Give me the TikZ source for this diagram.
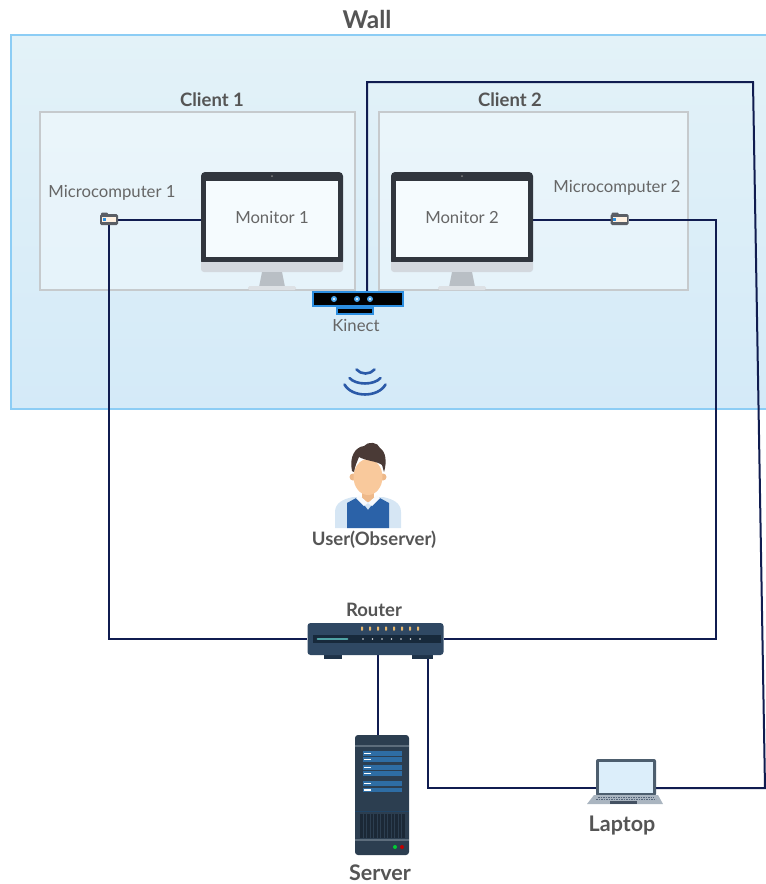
\documentclass[tikz,border=0pt]{standalone}
\usepackage{fontspec}
\setmainfont{Lato}
\usetikzlibrary{calc}

\definecolor{wirec}{HTML}{101C50}
\definecolor{wallTop}{HTML}{E3F2F8}
\definecolor{wallBot}{HTML}{D4EAF8}
\definecolor{wallLine}{HTML}{8CCDF5}
\definecolor{clientLine}{HTML}{C6CACD}
\definecolor{labc}{HTML}{666666}
\definecolor{boldc}{HTML}{555555}
\definecolor{mframe}{HTML}{31363E}
\definecolor{mscreen}{HTML}{F5FBFE}
\definecolor{mchin}{HTML}{D3D8DE}
\definecolor{mneck}{HTML}{B9BFC5}
\definecolor{mbase}{HTML}{DDE1E5}
\definecolor{kblue}{HTML}{2C8EE0}
\definecolor{kdot}{HTML}{4AA8F0}
\definecolor{wave}{HTML}{2B5AA8}
\definecolor{rbody}{HTML}{2F4863}
\definecolor{rstrip}{HTML}{17293B}
\definecolor{rfoot}{HTML}{1E3248}
\definecolor{rteal}{HTML}{4FA3A5}
\definecolor{rled}{HTML}{E8B86D}
\definecolor{sbody}{HTML}{2C3E50}
\definecolor{sbar}{HTML}{2E6DA4}
\definecolor{sgrill}{HTML}{1B2836}
\definecolor{sline}{HTML}{5D6D7C}
\definecolor{lframe}{HTML}{4D5E6E}
\definecolor{lscreen}{HTML}{DCEEFA}
\definecolor{lbase}{HTML}{AAB5C0}
\definecolor{lkeys}{HTML}{55657A}
\definecolor{skin}{HTML}{F9C99C}
\definecolor{skindark}{HTML}{EEB98A}
\definecolor{hair}{HTML}{4A3A36}
\definecolor{shirt}{HTML}{D6E6F4}
\definecolor{vest}{HTML}{2B62A8}

\pgfdeclarelayer{bg}
\pgfdeclarelayer{wires}
\pgfsetlayers{bg,wires,main}

\tikzset{
  monitorpic/.pic={
    \fill[mframe,rounded corners=4] (-71,-45) rectangle (71,48);
    \fill[mscreen] (-66,-36) rectangle (66,40);
    \fill[mchin,rounded corners=3] (-71,45) -- (-71,55) -- (71,55) -- (71,45);
    \fill[mneck] (-10,55) -- (10,55) -- (13,70) -- (-13,70) -- cycle;
    \fill[mbase,rounded corners=1.5] (-24,69) rectangle (24,73);
    \fill[gray] (0,-41) circle (1);
  },
  mcpic/.pic={
    \fill[mframe!80,rounded corners=1] (-8,-7) rectangle (-1,-4);
    \fill[mframe!80,rounded corners=1.5] (-9,-5.5) rectangle (9,5.5);
    \fill[orange!12] (-7,-2.5) rectangle (7,2.5);
    \fill[kblue] (-6.5,-1.5) rectangle (-3.5,1.5);
  },
  kinectpic/.pic={
    \draw[kblue,line width=1.2,fill=black] (-21,9) rectangle (15,15);
    \draw[kblue,line width=1.2] (-1,7) -- (-1,9);
    \draw[kblue,line width=1.5,fill=black] (-45,-7) rectangle (45,7);
    \foreach \dx in {-24,-1,12} {
      \fill[kdot] (\dx,0) circle (3);
      \fill[white] (\dx,0) circle (1.1);
    }
  },
  routerpic/.pic={
    \fill[rfoot] (-52,12) rectangle (-33.5,20);
    \fill[rfoot] (36.5,12) rectangle (57.5,20);
    \fill[rbody,rounded corners=3] (-68,-16) rectangle (68,16);
    \fill[rstrip] (-62.5,-4) rectangle (65.5,4);
    \draw[rteal,line width=1.8,line cap=round] (-58,0) -- (-28,0);
    \foreach \i in {0,...,6} \fill[white!85!rstrip] (-12.5+9.5*\i,0) circle (0.9);
    \foreach \i in {0,...,7} \fill[rled,rounded corners=0.5] (-14.5+8*\i,-12.5) rectangle (-12.5+8*\i,-8.5);
  },
  serverpic/.pic={
    \fill[sbody,rounded corners=3] (-27,-60) rectangle (27,60);
    \draw[sline,line width=1.2] (-27,-49) -- (27,-49);
    \foreach \y in {-41.7,-35.7,-27.3,-21.7,-11.7,-5} {
      \fill[sbar] (-19,\y-2.3) rectangle (20,\y+2.3);
      \draw[white,line width=1.4] (-18,\y) -- (-11,\y);
    }
    \draw[rstrip!60!sbar,line width=1] (-27,16) -- (27,16);
    \fill[sgrill] (-22,19) rectangle (23,43);
    \foreach \x in {-19,-15.5,...,20} \draw[sbody,line width=0.7] (\x,19) -- (\x,43);
    \draw[sline,line width=1.2] (-27,45) -- (27,45);
    \fill[green!60!teal] (13,52) circle (2);
    \fill[red!75!black] (20,52) circle (2);
  },
  laptoppic/.pic={
    \fill[lframe,rounded corners=2] (-30,-18) rectangle (30,19);
    \fill[lscreen] (-27,-15) rectangle (27,16);
    \fill[lbase] (-32,18) -- (32,18) -- (37,27) -- (-39,27) -- cycle;
    \draw[lkeys,line width=1.2,dash pattern=on 1.6pt off 0.9pt] (-28,20.5) -- (28,20.5);
    \draw[lkeys,line width=1.2,dash pattern=on 1.6pt off 0.9pt] (-30,22.8) -- (30,22.8);
    \fill[lkeys!80!black] (-16,24) rectangle (11,27);
  },
  userpic/.pic={
    % shirt and shoulders
    \fill[shirt] (-33,38) -- (-33,22) .. controls (-33,13) and (-25,9) .. (-15,7)
      -- (15,7) .. controls (25,9) and (33,13) .. (33,22) -- (33,38) -- cycle;
    % neck
    \fill[skindark] (-6,0) rectangle (6,12);
    % vest
    \fill[vest] (-21,38) -- (-21,13) -- (-10,7) -- (0,20) -- (10,7) -- (21,13) -- (21,38) -- cycle;
    % collar
    \fill[white!85!shirt] (-9,5) -- (0,13) -- (-4,16) -- (-12,8) -- cycle;
    \fill[white!85!shirt] (9,5) -- (0,13) -- (4,16) -- (12,8) -- cycle;
    % ears and face
    \fill[skindark] (-15,-13) circle (3.5);
    \fill[skindark] (15,-13) circle (3.5);
    \fill[skin] (0,-13) ellipse (14.5 and 18);
    % hair
    \fill[hair] (-16,-19) .. controls (-19,-33) and (-13,-43) .. (-4,-44)
      .. controls (0,-49) and (10,-48) .. (12,-42)
      .. controls (18,-38) and (19,-28) .. (16,-18)
      -- (14,-25) .. controls (9,-29) and (-2,-29) .. (-9,-33)
      .. controls (-11,-28) and (-13,-24) .. (-14,-18) -- cycle;
  }
}

\begin{document}
\begin{tikzpicture}[x=1pt,y=-1pt,
  wire/.style={draw=wirec,line width=2pt},
  iconbox/.style={inner sep=0pt,outer sep=0pt,draw=none,rectangle},
  lbl/.style={text=labc,font=\fontsize{16.7}{19}\selectfont,inner sep=0pt},
  blbl/.style={text=boldc,font=\bfseries\fontsize{18.5}{21}\selectfont,inner sep=0pt},
  bigbold/.style={text=boldc,font=\bfseries\fontsize{21.5}{24}\selectfont,inner sep=0pt},
  clientbox/.style={draw=clientLine,line width=1.6pt,fill=white,fill opacity=0.35}]

\useasboundingbox (0,0) rectangle (766,884);

% the wall and the two client areas
\begin{pgfonlayer}{bg}
  \shade[top color=wallTop,bottom color=wallBot] (11,35) rectangle (790,409);
  \draw[wallLine,line width=2.2pt] (790,35) -- (11,35) -- (11,409) -- (790,409);
  \draw[clientbox] (40,112) rectangle (355,290);
  \draw[clientbox] (379,112) rectangle (688,290);
\end{pgfonlayer}

\node[text=boldc,font=\bfseries\fontsize{24.5}{28}\selectfont,inner sep=0pt] (walllbl) at (367,19) {Wall};
\node[blbl] (c1lbl) at (212,100) {Client 1};
\node[blbl] (c2lbl) at (510,100) {Client 2};

% monitors
\pic at (272,217) {monitorpic};
\node[iconbox,minimum width=142pt,minimum height=90pt,lbl] (mon1) at (272,217) {Monitor 1};
\pic at (462,217) {monitorpic};
\node[iconbox,minimum width=142pt,minimum height=90pt,lbl] (mon2) at (462,217) {Monitor 2};

% microcomputers
\pic at (109,219.5) {mcpic};
\node[iconbox,minimum width=18pt,minimum height=11pt] (mc1) at (109,219.5) {};
\node[lbl] (mc1lbl) at (112,193) {Microcomputer 1};
\pic at (619.5,219.5) {mcpic};
\node[iconbox,minimum width=18pt,minimum height=11pt] (mc2) at (619.5,219.5) {};
\node[lbl] (mc2lbl) at (617,188) {Microcomputer 2};

% kinect sensor and its signal
\pic at (358,299) {kinectpic};
\node[iconbox,minimum width=90pt,minimum height=14pt] (kinect) at (358,299) {};
\node[lbl] (kinectlbl) at (356,325) {Kinect};
\draw[wave,line width=2.6pt,line cap=round]
  (356.5,369.5) .. controls (361,374.8) and (370,374.8) .. (374.5,369.5);
\draw[wave,line width=2.6pt,line cap=round]
  (349.5,378) .. controls (356,385.3) and (374,385.3) .. (380.5,378);
\draw[wave,line width=2.6pt,line cap=round]
  (344.5,384.5) .. controls (352,397.8) and (378,397.8) .. (385.5,384.5);

% observer
\pic at (368,490) {userpic};
\node[iconbox,minimum width=66pt,minimum height=84pt] (user) at (370,486) {};
\node[blbl] (userlbl) at (374,540) {User(Observer)};

% network devices
\pic at (375.5,639) {routerpic};
\node[iconbox,minimum width=137pt,minimum height=32pt] (router) at (375.5,639) {};
\node[blbl] (routerlbl) at (374,610) {Router};

\pic at (382,795) {serverpic};
\node[iconbox,minimum width=54pt,minimum height=120pt] (server) at (382,795) {};
\node[bigbold] (serverlbl) at (380,873) {Server};

\pic at (626,777) {laptoppic};
\node[iconbox,minimum width=60pt,minimum height=36pt] (laptop) at (626,777) {};
\node[bigbold] (laptoplbl) at (622,826) {Laptop};

% bend points of the long cables
\coordinate (c2) at (716,219.5);
\coordinate (k1) at (753,82);
\coordinate (k2) at (765,788);

% cabling
\begin{pgfonlayer}{wires}
  \draw[wire] (mc1.east) -- (mc1.east -| mon1.west);
  \draw[wire] (mc1.south) |- (router.west);
  \draw[wire] (router.east) -| (c2) -- (mc2.east);
  \draw[wire] (mc2.west) -- (mc2.west -| mon2.east);
  \draw[wire] ([xshift=9pt]kinect.north) |- (k1) -- (k2) -- ([yshift=-11pt]laptop.east);
  \draw[wire] ([xshift=-4pt]server.north) -- ([xshift=-4pt]server.north |- router.south);
  \draw[wire] ([xshift=52pt]router.south) |- ([yshift=-11pt]laptop.west);
\end{pgfonlayer}
\end{tikzpicture}
\end{document}
